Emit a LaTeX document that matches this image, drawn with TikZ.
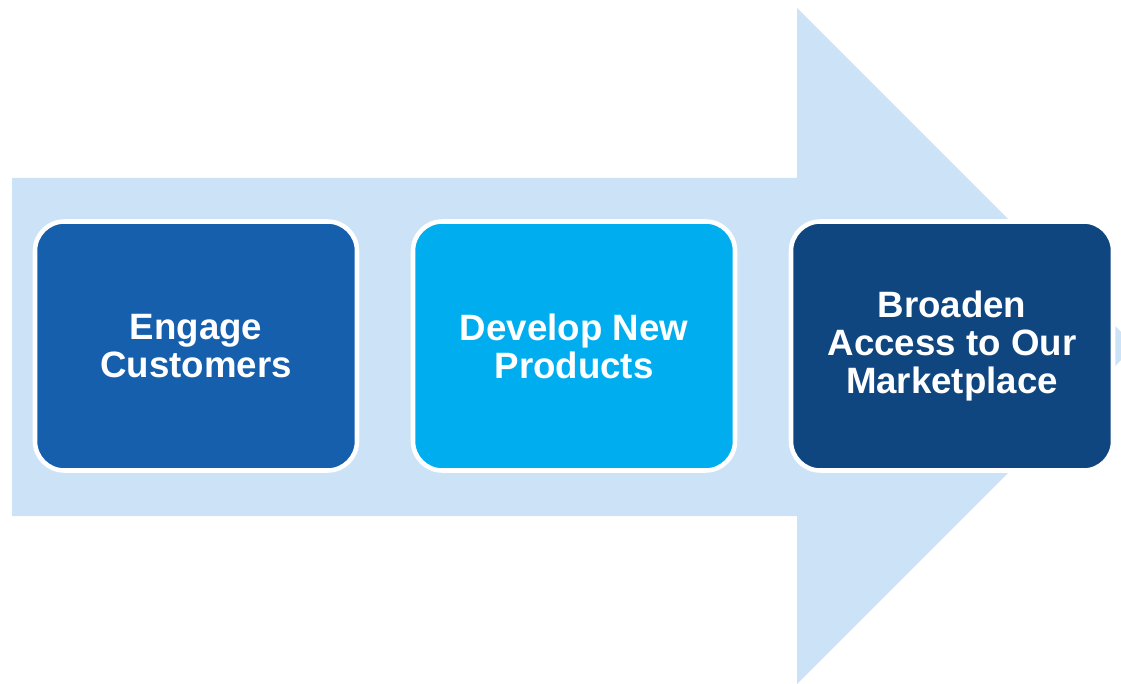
\documentclass[tikz,border=0pt]{standalone}
\usepackage{fontspec}
\setmainfont{Liberation Sans}
\usepackage{xcolor}
\usepackage{tikz}
\usetikzlibrary{
  positioning,
}
\definecolor{arrowfill}{RGB}{204,227,247}
\definecolor{engageblue}{RGB}{21,95,173}
\definecolor{developblue}{RGB}{0,174,239}
\definecolor{broadenblue}{RGB}{16,70,128}
\tikzset{
  meta box/.style={
    draw=white,
    line width=3.4pt,
    text=white,
    text centered
  },
  stage/.style={
    meta box,
    rectangle,
    rounded corners=22pt,
    outer sep=0pt,
    minimum width=241.5pt,
    minimum height=186.75pt,
    align=center,
    font=\fontsize{27.5pt}{28.5pt}\selectfont\bfseries
  }
}

\begin{document}
\begin{tikzpicture}[x=0.75pt, y=-0.75pt]
  \useasboundingbox (0,0) rectangle (1121,684);
  \clip (0,0) rectangle (1121,684);

  %% big arrow
  \fill[arrowfill] (12,178) -- (797,178) -- (797,8) -- (1135,346)
    -- (797,684) -- (797,516) -- (12,516) -- cycle;

  %% stages
  \node[stage, fill=engageblue] (engage) at (196,346) {Engage\\Customers};
  \node[stage, fill=developblue, right=42pt of engage] (develop) {Develop New\\Products};
  \node[stage, fill=broadenblue, right=42pt of develop] (broaden) {Broaden\\Access to Our\\Marketplace};
\end{tikzpicture}
\end{document}
